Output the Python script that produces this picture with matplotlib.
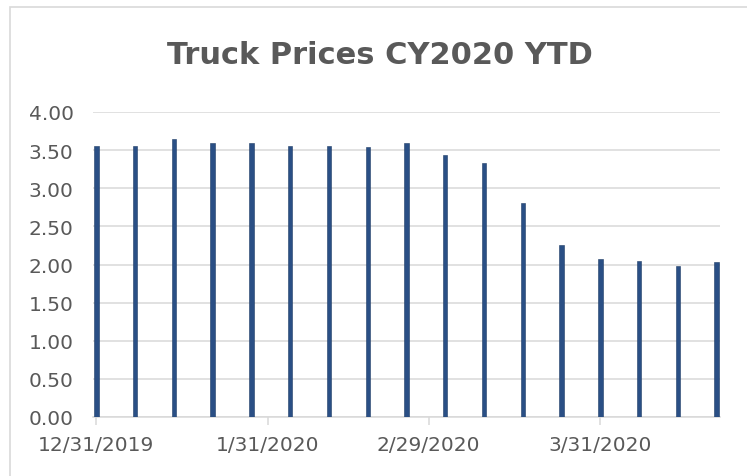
import matplotlib
matplotlib.use("Agg")
import matplotlib.pyplot as plt
import matplotlib.dates as mdates
from matplotlib.patches import Rectangle
import pandas as pd

# weekly truck prices, CY2020 YTD
dates = pd.date_range("2019-12-31", periods=17, freq="7D")
prices = [3.56, 3.56, 3.64, 3.59, 3.59, 3.55, 3.55, 3.54, 3.59,
          3.44, 3.33, 2.81, 2.25, 2.07, 2.05, 1.98, 2.03]
tick_dates = pd.to_datetime(["2019-12-31", "2020-01-31", "2020-02-29", "2020-03-31"])
yticks = [0, 0.5, 1.0, 1.5, 2.0, 2.5, 3.0, 3.5, 4.0]

TXT = "#595959"
GRID = "#d9d9d9"
BAR = "#2a4f85"

plt.rcParams["font.family"] = ["DejaVu Sans"]

fig = plt.figure(figsize=(7.47, 4.77), dpi=100)
W, H = 747, 477

# chart frame (cropped on the right and bottom)
fig.patches.append(Rectangle((10 / W, -0.1), 1.2, (H - 8) / H + 0.1,
                             transform=fig.transFigure, fill=False,
                             edgecolor="#d9d9d9", linewidth=1.2))

ax = fig.add_axes([93 / W, (H - 418) / H, (720 - 93) / W, (418 - 113) / H])

x = mdates.date2num(dates)
ax.bar(x, prices, width=0.8, color=BAR, edgecolor="#1f3d66", linewidth=0.4, zorder=3)

ax.set_ylim(0, 4)
ax.set_xlim(x[0] - 0.6, x[-1] + 0.6)
ax.set_yticks(yticks)
ax.set_yticklabels([f"{v:.2f}" for v in yticks])
ax.set_xticks(mdates.date2num(tick_dates))
ax.set_xticklabels([f"{d.month}/{d.day}/{d.year}" for d in tick_dates])

ax.grid(axis="y", color=GRID, linewidth=1.1, zorder=0)
for s in ["top", "right", "left"]:
    ax.spines[s].set_visible(False)
ax.spines["bottom"].set_color(GRID)
ax.spines["bottom"].set_linewidth(1.1)
ax.tick_params(axis="y", length=0, pad=14, labelsize=14.5, labelcolor=TXT)
ax.tick_params(axis="x", length=6, width=1.1, color=GRID, pad=7,
               labelsize=14.5, labelcolor=TXT)

fig.text(380 / W, 1 - 55 / H, "Truck Prices CY2020 YTD", ha="center", va="center",
         fontsize=22, fontweight="bold", color=TXT)

fig.savefig("out.png", dpi=100)
